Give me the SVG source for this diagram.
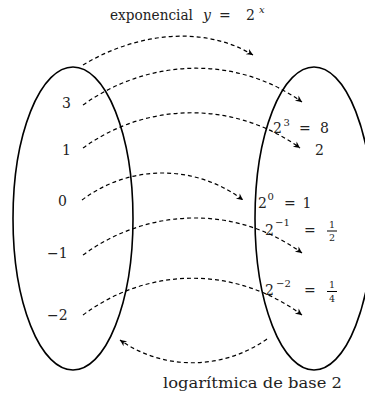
<svg xmlns="http://www.w3.org/2000/svg" width="365" height="394" viewBox="0 0 365 394">
<style>
text{font-family:'DejaVu Serif','Liberation Serif',serif;font-size:14px;fill:#222}
.it{font-style:italic}
.sup{font-size:10px}
.frac{font-size:9.5px}
.set{fill:none;stroke:#000;stroke-width:1.6}
.arr{fill:none;stroke:#000;stroke-width:1.2;stroke-dasharray:4 3;marker-end:url(#ah)}
.bar{stroke:#000;stroke-width:1}
</style>
<defs>
<marker id="ah" markerUnits="userSpaceOnUse" viewBox="-7 -4 8 8" refX="0" refY="0" markerWidth="8" markerHeight="8" orient="auto">
<path d="M0,0 L-6.5,-3.2 L-4.5,0 L-6.5,3.2 Z" fill="#000"/>
</marker>
</defs>
<rect width="365" height="394" fill="#fff"/>

<g id="title">
<text x="110" y="20" textLength="83" lengthAdjust="spacingAndGlyphs">exponencial</text>
<text x="203" y="20" class="it">y</text>
<text x="219" y="20">=</text>
<text x="246" y="20">2</text>
<text x="259" y="13" class="sup it">x</text>
</g>

<g id="domain">
<ellipse class="set" cx="73" cy="218.5" rx="60" ry="151.5"/>
<g id="x3"><text x="62" y="108">3</text></g>
<g id="x1"><text x="62" y="155">1</text></g>
<g id="x0"><text x="58" y="206">0</text></g>
<g id="xm1"><text x="47" y="258">−1</text></g>
<g id="xm2"><text x="47" y="320">−2</text></g>
</g>

<g id="codomain">
<ellipse class="set" cx="314" cy="218.5" rx="59" ry="151.5"/>
<g id="y8">
<text x="273" y="133">2</text><text x="283.5" y="126" class="sup">3</text>
<text x="299" y="133">=</text><text x="320" y="133">8</text>
</g>
<g id="y8b"><text x="315" y="155">2</text></g>
<g id="y1">
<text x="258" y="208">2</text><text x="267.5" y="200" class="sup">0</text>
<text x="284" y="208">=</text><text x="302.5" y="208">1</text>
</g>
<g id="yhalf">
<text x="265" y="235">2</text><text x="275" y="226" class="sup">−1</text>
<text x="304" y="235">=</text>
<text x="329" y="228" class="frac">1</text>
<line class="bar" x1="327" y1="231" x2="337" y2="231"/>
<text x="329" y="241" class="frac">2</text>
</g>
<g id="yquarter">
<text x="265" y="295">2</text><text x="276" y="287" class="sup">−2</text>
<text x="304" y="295">=</text>
<text x="329" y="288" class="frac">1</text>
<line class="bar" x1="327" y1="291.5" x2="337" y2="291.5"/>
<text x="329" y="302" class="frac">4</text>
</g>
</g>

<g id="bottom-label">
<text x="163" y="388" textLength="179" lengthAdjust="spacingAndGlyphs">logarítmica de base 2</text>
</g>

<g id="connectors">
<path class="arr" d="M83,65 C134,34 202,24 253,55"/>
<path class="arr" d="M83,105 C149,58 236,55 302,102"/>
<path class="arr" d="M83,148 C148,101 235,101 300,148"/>
<path class="arr" d="M82,200 C130,164 195,164 243,200"/>
<path class="arr" d="M83,255 C149,207 236,205 302,253"/>
<path class="arr" d="M83,315 C149,266 236,266 302,315"/>
<path class="arr" d="M267,339 C223,370 164,371 120,340"/>
</g>
</svg>
